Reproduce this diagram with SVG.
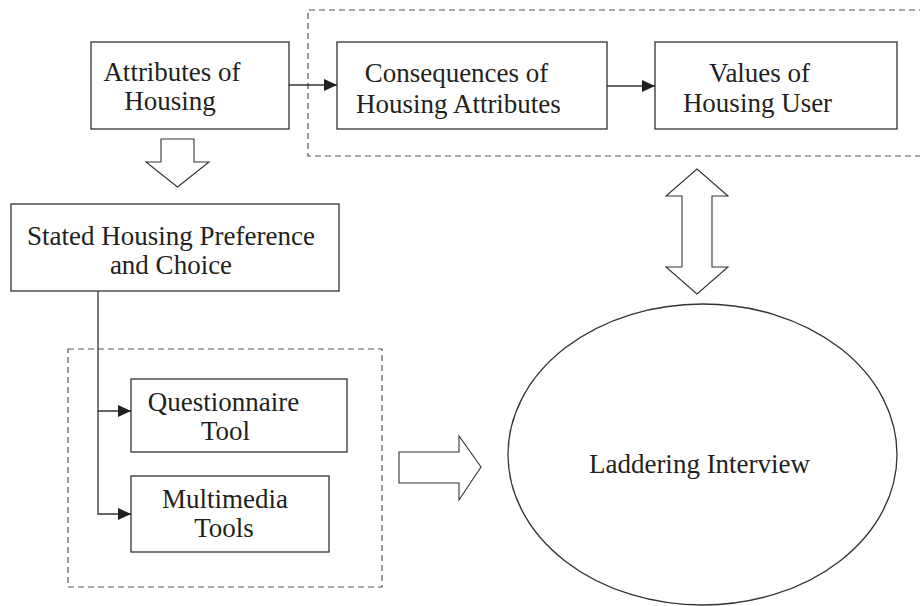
<svg xmlns="http://www.w3.org/2000/svg" width="920" height="606" viewBox="0 0 920 606">
<style>
.box{fill:#fff;stroke:#333;stroke-width:1.3}
.dash{fill:none;stroke:#555;stroke-width:1.2;stroke-dasharray:6 4}
.blk{fill:#fff;stroke:#333;stroke-width:1.1}
.ln{fill:none;stroke:#333;stroke-width:1.3}
text{font-family:"Liberation Serif","Times New Roman",serif;font-size:27px;fill:#231f20;text-anchor:middle}
</style>
<defs>
<marker id="ah" markerWidth="14" markerHeight="12" refX="13" refY="6" orient="auto" markerUnits="userSpaceOnUse">
<path d="M0,0 L13,6 L0,12 Z" fill="#231f20"/>
</marker>
</defs>
<rect width="920" height="606" fill="#fff"/>
<g id="groups">
<path class="dash" d="M925,10 H308 V156 H925"/>
<rect class="dash" x="68" y="349" width="314" height="238"/>
</g>
<g id="attributes">
<rect class="box" x="91" y="42" width="198" height="87"/>
<text x="172" y="81">Attributes of</text>
<text x="170" y="110">Housing</text>
</g>
<g id="consequences">
<rect class="box" x="337" y="42" width="270" height="87"/>
<text x="456.5" y="82">Consequences of</text>
<text x="458.5" y="113">Housing Attributes</text>
</g>
<g id="values">
<rect class="box" x="655" y="42" width="242" height="87"/>
<text x="759.5" y="82">Values of</text>
<text x="757.5" y="112">Housing User</text>
</g>
<g id="stated">
<rect class="box" x="11" y="204" width="328" height="87"/>
<text x="171" y="244.5">Stated Housing Preference</text>
<text x="171" y="273.5">and Choice</text>
</g>
<g id="questionnaire">
<rect class="box" x="131" y="379" width="216" height="73"/>
<text x="223.5" y="411">Questionnaire</text>
<text x="225.5" y="440">Tool</text>
</g>
<g id="multimedia">
<rect class="box" x="131" y="476" width="198" height="76"/>
<text x="225" y="507.5">Multimedia</text>
<text x="224" y="536.5">Tools</text>
</g>
<g id="laddering">
<ellipse class="box" cx="702.5" cy="454.5" rx="194.5" ry="150.5"/>
<text x="699.5" y="473">Laddering Interview</text>
</g>
<g id="connectors">
<line class="ln" x1="289" y1="85" x2="337" y2="85" marker-end="url(#ah)"/>
<line class="ln" x1="607" y1="86" x2="655" y2="86" marker-end="url(#ah)"/>
<polyline class="ln" points="98,291 98,411 131,411" marker-end="url(#ah)"/>
<polyline class="ln" points="98,411 98,514 131,514" marker-end="url(#ah)"/>
<path class="blk" d="M161,139 H194 V162 H209 L177.5,187 L146,162 H161 Z"/>
<path class="blk" d="M697,169 L728,196 H712 V267 H728 L697,294 L666,267 H682 V196 H666 Z"/>
<path class="blk" d="M399,452 H459 V436 L481,467 L459,500 V483 H399 Z"/>
</g>
</svg>
